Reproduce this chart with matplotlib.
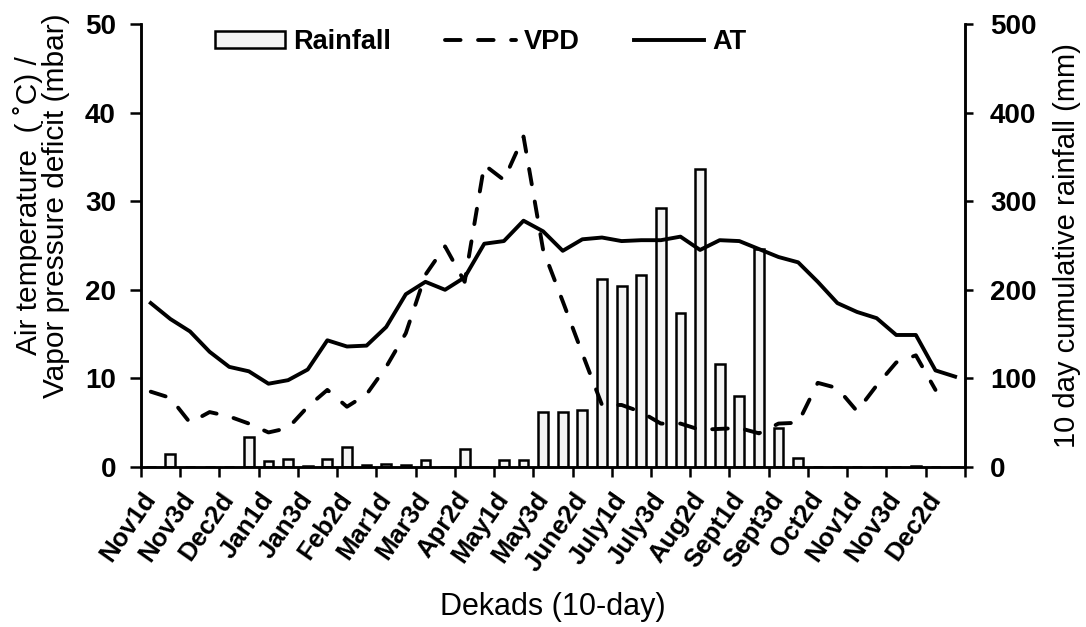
import numpy as np
import matplotlib.pyplot as plt
from matplotlib.patches import Patch
from matplotlib.lines import Line2D

plt.rcParams['font.family'] = ['Liberation Sans', 'DejaVu Sans']

# dekads, Nov of one year to Dec of the next
dekads = ['Nov1d', 'Nov2d', 'Nov3d', 'Dec1d', 'Dec2d', 'Dec3d',
          'Jan1d', 'Jan2d', 'Jan3d', 'Feb1d', 'Feb2d', 'Feb3d',
          'Mar1d', 'Mar2d', 'Mar3d', 'Apr1d', 'Apr2d', 'Apr3d',
          'May1d', 'May2d', 'May3d', 'June1d', 'June2d', 'June3d',
          'July1d', 'July2d', 'July3d', 'Aug1d', 'Aug2d', 'Aug3d',
          'Sept1d', 'Sept2d', 'Sept3d', 'Oct1d', 'Oct2d', 'Oct3d',
          'Nov1d', 'Nov2d', 'Nov3d', 'Dec1d', 'Dec2d', 'Dec3d']

# air temperature (C)
at = [18.5, 16.7, 15.3, 13.0, 11.3, 10.8, 9.4, 9.8, 11.0, 14.3, 13.6, 13.7,
      15.8, 19.5, 20.9, 20.0, 21.4, 25.2, 25.5, 27.8, 26.6, 24.4, 25.7, 25.9,
      25.5, 25.6, 25.6, 26.0, 24.5, 25.6, 25.5, 24.6, 23.7, 23.1, 20.9, 18.5,
      17.5, 16.8, 14.9, 14.9, 10.9, 10.2]

# vapour pressure deficit (mbar), last dekad missing
vpd = [8.5, 7.8, 5.0, 6.2, 5.7, 4.9, 3.9, 4.4, 6.8, 8.7, 6.8, 8.2,
       11.3, 15.1, 21.7, 24.9, 20.9, 34.1, 32.4, 37.3, 24.5, 18.7, 12.8, 7.0,
       7.0, 6.2, 4.9, 4.9, 4.2, 4.3, 4.4, 3.8, 4.9, 5.0, 9.5, 8.9,
       6.3, 9.2, 11.8, 12.6, 8.7, np.nan]

# 10 day rainfall (mm)
rain = [0, 15, 0, 0, 0, 34, 7, 9.5, 1, 8.5, 22, 2,
        3, 2, 8, 0, 20.5, 0, 8, 8, 62, 62, 64, 212,
        204, 217, 292, 174, 336, 116, 80, 246, 44, 10.5, 0, 0,
        0, 0, 0, 1.5, 0, 0]

x = np.arange(len(dekads))

fig = plt.figure(figsize=(10.86, 6.27), dpi=100)
ax = fig.add_axes([0.1298, 0.2552, 0.7587, 0.7065])
ax2 = ax.twinx()
ax.set_zorder(ax2.get_zorder() + 1)
ax.patch.set_visible(False)

lw = 2.8
ax2.bar(x, rain, width=0.5, color='#f4f4f4', edgecolor='black', linewidth=1.8)
ax.plot(x, vpd, color='black', lw=lw, dashes=(4, 4.5), dash_capstyle='round')
ax.plot(x, at, color='black', lw=lw, solid_joinstyle='round')

ax.set_xlim(-0.5, len(dekads) - 0.5)
ax.set_ylim(0, 50)
ax2.set_ylim(0, 500)
ax.set_yticks(range(0, 51, 10))
ax2.set_yticks(range(0, 501, 100))

ax.set_xticks(x[::2])
ax.set_xticklabels(dekads[::2])
ax.set_xticks(np.arange(-0.5, len(dekads), 2), minor=True)
ax.tick_params(axis='x', which='major', length=0, pad=20, labelsize=18.5)
ax.tick_params(axis='x', which='minor', length=7, width=1.8, direction='out')
ax.tick_params(axis='y', length=8, width=1.8, labelsize=20, pad=10)
ax2.tick_params(axis='y', length=6, width=1.8, labelsize=20, pad=12)
for lbl in ax.get_xticklabels():
    lbl.set_rotation(55)
    lbl.set_ha('right')
    lbl.set_va('center')
    lbl.set_rotation_mode('anchor')
for lbl in ax.get_xticklabels() + ax.get_yticklabels() + ax2.get_yticklabels():
    lbl.set_fontweight('bold')

for a in (ax, ax2):
    a.spines['top'].set_visible(False)
    for s in ('left', 'right', 'bottom'):
        a.spines[s].set_linewidth(1.8)

ax.set_ylabel('Air temperature  ( \u02daC) /\nVapor pressure deficit (mbar)',
              fontsize=21.5, linespacing=0.95)
ax.yaxis.set_label_coords(-0.086, 0.59)
ax2.set_ylabel('10 day cumulative rainfall (mm)', fontsize=21)
ax2.yaxis.set_label_coords(1.107, 0.5)
ax.set_xlabel('Dekads (10-day)', fontsize=22)
ax.xaxis.set_label_coords(0.5, -0.283)

handles = [Patch(facecolor='#f4f4f4', edgecolor='black', lw=1.8, label='Rainfall'),
           Line2D([], [], color='black', lw=lw, dashes=(4, 4.5), dash_capstyle='round', label='VPD'),
           Line2D([], [], color='black', lw=lw, label='AT')]
ax.legend(handles=handles, ncol=3, loc='center', bbox_to_anchor=(0.412, 0.959),
          frameon=False, prop={'weight': 'bold', 'size': 19.5},
          handlelength=2.6, handleheight=0.6, handletextpad=0.3, columnspacing=2.0)

fig.savefig('out.png', dpi=100)
